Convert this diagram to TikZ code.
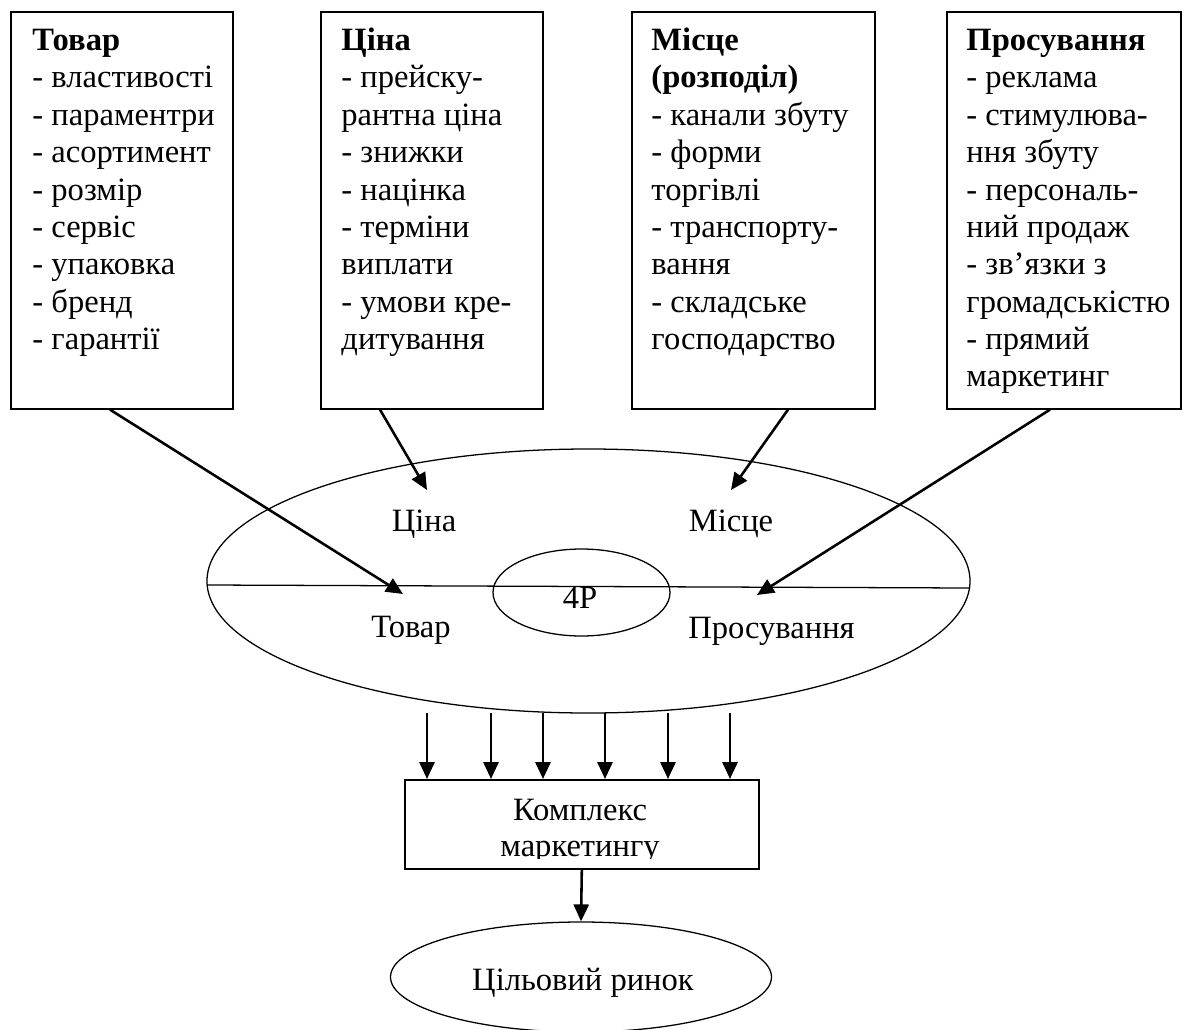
\documentclass[tikz,border=0pt]{standalone}
\usepackage{fontspec}
\setmainfont{Liberation Serif}
\usetikzlibrary{arrows.meta,shapes.geometric,calc}
\begin{document}
\begin{tikzpicture}[x=0.43pt,y=-0.43pt,
  txt/.style={font=\fontsize{14}{16.08}\selectfont, inner sep=0pt},
  panel/.style={draw, line width=0.7pt, inner sep=0pt, anchor=north west},
  listtext/.style={txt, anchor=north west, align=left},
  lab/.style={txt, anchor=base},
  arr/.style={line width=1.1pt, -{Triangle[length=7.3pt,width=6.5pt]}},
  oval/.style={draw, line width=0.55pt, ellipse, inner sep=0pt}]
\useasboundingbox (0,0) rectangle (1186,1030);

% top panels
\node[panel, minimum width=95.46pt, minimum height=170.71pt] (b1) at (10,11) {};
\node[panel, minimum width=95.46pt, minimum height=170.71pt] (b2) at (320,11) {};
\node[panel, minimum width=104.49pt, minimum height=170.71pt] (b3) at (631,11) {};
\node[panel, minimum width=100.62pt, minimum height=170.71pt] (b4) at (946,11) {};

\node[listtext] (t1) at (32,26.7) {\rule{0pt}{10pt}\bfseries Товар\\
- властивості\\- параментри\\- асортимент\\- розмір\\- сервіс\\- упаковка\\- бренд\\- гарантії};
\node[listtext] (t2) at (341,26.7) {\rule{0pt}{10pt}\bfseries Ціна\\
- прейску-\\рантна ціна\\- знижки\\- націнка\\- терміни\\виплати\\- умови кре-\\дитування};
\node[listtext] (t3) at (651,26.7) {\rule{0pt}{10pt}\bfseries Місце\\
\bfseries (розподіл)\\- канали збуту\\- форми\\торгівлі\\- транспорту-\\вання\\- складське\\господарство};
\node[listtext] (t4) at (966,26.7) {\rule{0pt}{10pt}\bfseries Просування\\
- реклама\\- стимулюва-\\ння збуту\\- персональ-\\ний продаж\\- зв’язки з\\громадськістю\\- прямий\\маркетинг};

% central ellipse
\node[oval, minimum width=328.09pt, minimum height=113.52pt] (big) at (588.5,581) {};
\coordinate (hl) at (207,585);
\coordinate (hr) at (970,588);
\draw[line width=0.55pt] (hl) -- (hr);
\node[oval, minimum width=76.11pt, minimum height=37.41pt] (inner) at (581.5,592.5) {};
\node[lab] (p4) at (580,608) {4P};
\node[lab] (lprice) at (424,531.5) {Ціна};
\node[lab] (lplace) at (731,531.5) {Місце};
\node[lab] (lprod) at (411,637) {Товар};
\node[lab] (lpromo) at (771.5,638) {Просування};

% arrows from panels
\coordinate (e1) at (403,594);
\coordinate (e2) at (427,490);
\coordinate (e3) at (731,490);
\coordinate (e4) at (757,595);
\draw[arr] ($(b1.south west)+(100,0)$) -- (e1);
\draw[arr] ($(b2.south west)+(60,0)$) -- (e2);
\draw[arr] ($(b3.south west)+(157,0)$) -- (e3);
\draw[arr] ($(b4.south west)+(104,0)$) -- (e4);

% complex box
\node[panel, minimum width=152.22pt, minimum height=38.27pt] (km) at (404,779) {};
\begin{scope}
\clip (404,779) rectangle (758,858);
\node[lab] (k1) at (580,820.5) {Комплекс};
\node[lab] (k2) at (580,856) {маркетингу};
\end{scope}

% six arrows
\foreach \i/\x in {1/427,2/491,3/543,4/605,5/668,6/730}{
  \coordinate (s\i) at (\x,713);
  \draw[arr] (s\i) -- (s\i |- km.north);
}

% target market
\node[oval, minimum width=163.83pt, minimum height=47.3pt] (tm) at (581,977) {};
\node[lab] (tmt) at (583,990.5) {Цільовий ринок};
\draw[arr] (km.south) -- (tm.north);
\end{tikzpicture}
\end{document}
